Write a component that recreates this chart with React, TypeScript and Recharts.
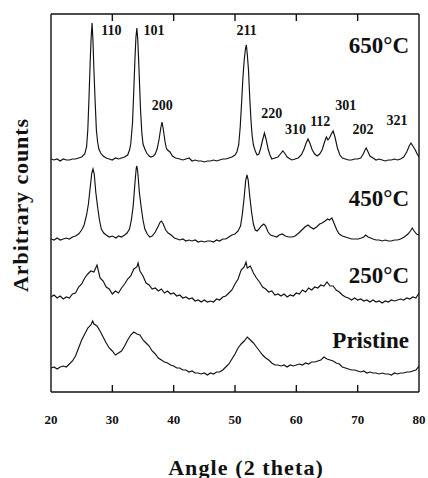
import React from 'react';
import { LineChart, Line, XAxis, YAxis, ReferenceLine, ReferenceDot } from 'recharts';

// ---- 650°C ----
const angles650 = [20,20.5,21,21.5,22,22.5,23,23.5,24,24.5,25,25.5,25.8,26,26.2,26.4,26.55,26.7,26.85,27,27.2,27.4,27.6,27.8,28.1,28.5,29,29.5,30,30.5,31,31.5,32,32.5,32.8,33,33.3,33.5,33.7,33.85,34,34.15,34.3,34.6,34.8,35,35.3,35.6,36,36.3,36.7,37,37.3,37.6,37.9,38.1,38.3,38.6,38.8,39,39.2,39.4,39.8,40.3,41,41.5,42,42.5,43,43.5,44,44.5,45,45.5,46,46.5,47,47.5,48,48.5,49,49.5,50,50.3,50.6,50.85,51.1,51.3,51.5,51.7,51.85,52,52.2,52.4,52.6,52.8,53,53.3,53.6,53.9,54.2,54.5,54.8,55.1,55.4,55.7,56,56.5,57,57.4,57.8,58.2,58.5,59,59.3,59.8,60.3,60.8,61.2,61.6,61.9,62.2,62.6,63,63.4,63.8,64.2,64.6,64.9,65.15,65.4,65.7,66,66.3,66.7,67.1,67.5,68,68.5,69,69.5,70,70.5,70.9,71.2,71.4,71.7,72,72.5,73,73.5,74,74.5,75,75.5,76,76.5,77,77.5,78,78.4,78.7,79,79.4,79.7,80];
const counts650 = [233,232,233,231,233,232,232,233,233,234,235,238,245,262,295,332,355,369,350,322,290,262,250,243,239,236,234,233,232,234,233,234,235,237,242,248,270,302,335,355,364,352,330,282,260,248,243,239,236,235,236,238,243,252,264,270,263,250,244,242,241,240,236,234,233,232,233,234,231,232,231,231,230,231,231,232,231,232,233,233,234,235,237,240,247,265,292,315,332,343,347,338,322,295,272,256,247,241,237,238,244,252,259,252,243,237,233,234,235,238,241,238,235,233,232,233,234,237,242,249,253,249,242,238,236,238,242,250,255,252,254,258,261,255,244,237,234,233,232,232,233,233,234,238,242,244,240,236,234,232,233,232,231,232,232,233,232,233,235,240,246,249,246,242,238,235];

// ---- 450°C ----
const angles450 = [20,20.5,21,21.5,22,22.5,23,23.5,24,24.5,25,25.4,25.8,26.1,26.4,26.65,26.85,27.05,27.3,27.6,27.9,28.2,28.6,29,29.5,30,30.6,31,31.5,32,32.4,32.8,33.1,33.4,33.7,33.9,34,34.15,34.4,34.7,35,35.3,35.7,36.1,36.5,37,37.5,37.8,38,38.3,38.7,39.1,39.6,40.1,40.6,41,41.5,42,42.5,43,43.5,44,44.5,45,45.5,46,46.5,47,47.5,48,48.5,49,49.5,50,50.5,50.9,51.2,51.5,51.75,51.96,52.15,52.4,52.7,53,53.3,53.6,53.9,54.3,54.7,55,55.4,55.8,56.3,56.8,57.2,57.7,58.2,58.7,59.3,59.8,60.4,60.9,61.4,61.9,62.3,62.8,63.3,63.8,64.2,64.7,65.1,65.4,65.8,66.2,66.6,67,67.5,68,68.5,69,69.5,70.1,70.6,71,71.3,71.7,72.1,72.5,73,73.5,74,74.5,75,75.5,76,76.5,77,77.6,78.2,78.6,78.9,79.2,79.6,80];
const counts450 = [153,152,154,152,153,154,153,155,156,158,162,167,177,188,205,219,223,218,200,185,172,163,159,157,155,156,154,156,155,157,159,163,172,186,210,224,226,220,200,185,172,163,158,155,156,160,166,170,171,168,162,159,157,154,153,152,153,151,152,151,152,150,151,150,151,151,150,152,151,153,153,155,157,158,161,166,178,195,212,217,212,196,180,168,162,161,163,166,168,166,160,157,156,155,157,158,156,155,155,156,159,162,165,167,165,163,165,168,169,171,173,172,174,168,162,158,156,155,154,153,153,153,154,155,157,155,154,153,152,152,151,152,151,151,152,152,153,155,158,161,164,161,158,157];

// ---- 250°C ----
const angles250 = [20,20.5,21,21.5,22,22.5,23,23.5,24,24.5,25,25.5,26,26.5,27,27.5,28,28.5,29,29.5,30,30.5,31,31.5,32,32.5,33,33.5,34,34.2,34.5,35,35.5,36,36.5,37,37.5,38,38.5,39,39.5,40,40.5,41,41.5,42,42.5,43,43.5,44,44.5,45,45.5,46,46.5,47,47.5,48,48.5,49,49.5,50,50.5,51,51.5,51.8,52,52.5,53,53.5,54,54.5,55,55.5,56,56.5,57,57.5,58,58.5,59,59.5,60,60.5,61,61.5,62,62.5,63,63.5,64,64.5,65,65.5,66,66.5,67,67.5,68,68.5,69,69.5,70,70.5,71,71.5,72,72.5,73,73.5,74,74.5,75,75.5,76,76.5,77,77.5,78,78.5,79,79.5,80];
const counts250 = [95,97,94,96,93,95,94,98,99,105,108,114,118,121,120,127,114,111,105,103,98,101,99,104,108,113,116,123,125,129,121,116,109,107,103,104,101,103,99,101,98,99,96,97,94,95,93,94,91,92,90,92,90,91,90,93,92,95,96,99,102,108,113,122,125,130,124,126,119,114,110,105,103,100,101,97,98,96,98,95,97,96,99,98,102,100,104,102,105,104,107,106,110,106,106,102,100,97,95,94,92,94,92,93,91,92,90,92,90,91,89,91,90,92,91,92,93,92,94,93,95,94,99];

// ---- Pristine ----
const anglesPristine = [20,20.5,21,21.5,22,22.5,23,23.5,24,24.5,25,25.5,26,26.5,26.8,27,27.5,28,28.5,29,29.5,30,30.5,31,31.5,32,32.5,33,33.5,34,34.5,35,35.5,36,36.5,37,37.5,38,38.5,39,39.5,40,40.5,41,41.5,42,42.5,43,43.5,44,44.5,45,45.5,46,46.5,47,47.5,48,48.5,49,49.5,50,50.5,51,51.5,52,52.5,53,53.5,54,54.5,55,55.5,56,56.5,57,57.5,58,58.5,59,59.5,60,60.5,61,61.5,62,62.5,63,63.5,64,64.5,65,65.5,66,66.5,67,67.5,68,68.5,69,69.5,70,70.5,71,71.5,72,72.5,73,73.5,74,74.5,75,75.5,76,76.5,77,77.5,78,78.5,79,79.5,80];
const countsPristine = [24,25,23,25,26,25,28,31,36,44,52,58,64,67,71,68,66,61,55,49,44,41,37,39,41,46,52,57,60,58,57,52,49,46,41,38,34,32,30,29,27,26,24,24,22,22,20,21,19,19,18,19,17,19,18,20,20,22,25,28,33,38,44,48,51,55,52,49,45,41,37,34,32,29,27,27,26,27,25,27,26,27,28,27,29,28,30,30,31,32,35,33,32,31,29,28,25,24,23,22,22,21,20,21,19,20,19,19,18,19,18,18,17,19,18,19,19,20,20,21,22,26];

// ---- axis & labels ----
const xTicks = [20, 30, 40, 50, 60, 70, 80];
const xDomain = [20, 80];
const yDomain = [0, 378];
const peakNames = ['110', '101', '200', '211', '220', '310', '112', '301', '202', '321'];
const peakLabelAngles = [29.86, 36.8, 38.13, 51.9, 56.0, 59.87, 63.9, 68.07, 70.87, 76.4];
const peakLabelCounts = [362, 362, 287, 362, 279, 263, 271, 287, 263, 272];
const sampleNames = ['650°C', '450°C', '250°C', 'Pristine'];
const sampleLabelAngle = 78.37;
const sampleLabelCounts = [347, 194, 117, 52];
const xTitle = 'Angle (2 theta)';
const yTitle = 'Arbitrary counts';

const zip = (a: number[], c: number[]) => a.map((x, i) => ({ a: x, c: c[i] }));
const series = [
  zip(angles650, counts650),
  zip(angles450, counts450),
  zip(angles250, counts250),
  zip(anglesPristine, countsPristine),
];

const FONT = 'Liberation Serif';
const INK = '#111111';

const XTick = (props: any) => {
  const { x, y, payload } = props;
  const v = payload.value;
  const inner = v > 20 && v < 80;
  return (
    <g>
      {inner && <line x1={x} x2={x} y1={y} y2={y - 7} stroke={INK} strokeWidth={1.4} />}
      {inner && <line x1={x} x2={x} y1={y - 378} y2={y - 371} stroke={INK} strokeWidth={1.4} />}
      <text x={x} y={y + 27} textAnchor="middle" dominantBaseline="central"
        fontFamily={FONT} fontWeight="bold" fontSize={13} fill={INK}>{v}</text>
    </g>
  );
};

const textShape = (t: string, size: number, anchor: string) => (p: any) => (
  <text x={p.cx} y={p.cy} textAnchor={anchor} dominantBaseline="central"
    fontFamily={FONT} fontWeight="bold" fontSize={size} fill={INK}>{t}</text>
);

const XTitle = (p: any) => (
  <text x={p.cx} y={p.cy + 75} textAnchor="middle" dominantBaseline="central"
    fontFamily={FONT} fontWeight="bold" fontSize={22} letterSpacing={1.1} fill={INK}>{xTitle}</text>
);

const YTitle = (p: any) => (
  <text x={0} y={0} transform={`translate(${p.cx - 31},${p.cy}) rotate(-90)`} textAnchor="middle"
    dominantBaseline="central" fontFamily={FONT} fontWeight="bold" fontSize={22}
    letterSpacing={0.9} fill={INK}>{yTitle}</text>
);

export default function App() {
  return (
    <div style={{ position: 'fixed', left: 0, top: 0, width: 428, height: 478, background: '#fff' }}>
      <LineChart width={428} height={478} margin={{ top: 14, right: 9, left: 51, bottom: 56 }}>
        <XAxis dataKey="a" type="number" domain={xDomain} ticks={xTicks} interval={0}
          tick={<XTick />} tickLine={false} axisLine={false} tickSize={0} tickMargin={0}
          height={30} allowDataOverflow />
        <YAxis type="number" domain={yDomain} hide allowDataOverflow />
        <ReferenceLine x={xDomain[0]} stroke={INK} strokeWidth={1.4} ifOverflow="visible" />
        <ReferenceLine x={xDomain[1]} stroke={INK} strokeWidth={1.4} ifOverflow="visible" />
        <ReferenceLine y={yDomain[0]} stroke={INK} strokeWidth={1.6} ifOverflow="visible" />
        <ReferenceLine y={yDomain[1]} stroke={INK} strokeWidth={1.4} ifOverflow="visible" />
        {series.map((d, i) => (
          <Line key={i} data={d} dataKey="c" type="linear" dot={false} stroke={INK}
            strokeWidth={1.15} isAnimationActive={false} />
        ))}
        {peakNames.map((n, i) => (
          <ReferenceDot key={'p' + i} x={peakLabelAngles[i]} y={peakLabelCounts[i]} r={1}
            shape={textShape(n, 14, 'middle')} />
        ))}
        {sampleNames.map((n, i) => (
          <ReferenceDot key={'s' + i} x={sampleLabelAngle} y={sampleLabelCounts[i]} r={1}
            shape={textShape(n, 23, 'end')} />
        ))}
        <ReferenceDot x={51.8} y={0} r={1} ifOverflow="visible" shape={XTitle} />
        <ReferenceDot x={20} y={187} r={1} ifOverflow="visible" shape={YTitle} />
      </LineChart>
    </div>
  );
}
